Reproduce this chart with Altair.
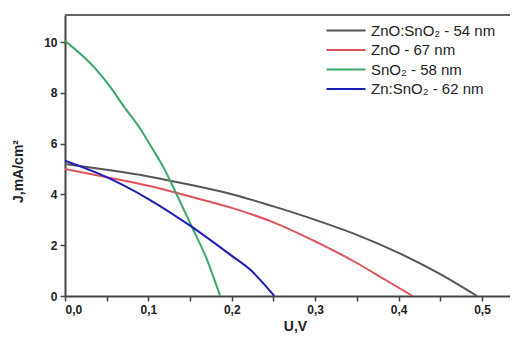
import altair as alt
import pandas as pd

series = ["ZnO:SnO₂ - 54 nm", "ZnO - 67 nm", "SnO₂ - 58 nm", "Zn:SnO₂ - 62 nm"]
colors = ["#555555", "#e0525a", "#3aa86a", "#1c1cb8"]

u_znosno2 = [0.0, 0.05, 0.1, 0.15, 0.2, 0.25, 0.3, 0.35, 0.4, 0.45, 0.494]
j_znosno2 = [5.2, 4.97, 4.71, 4.38, 4.01, 3.53, 3.0, 2.41, 1.7, 0.86, 0.0]

u_zno = [0.0, 0.05, 0.1, 0.15, 0.2, 0.25, 0.3, 0.35, 0.385, 0.417]
j_zno = [5.0, 4.68, 4.34, 3.92, 3.47, 2.9, 2.15, 1.3, 0.62, 0.0]

u_sno2 = [0.0, 0.02, 0.038, 0.054, 0.072, 0.09, 0.104, 0.12, 0.126, 0.136, 0.154, 0.17, 0.186]
j_sno2 = [10.05, 9.49, 8.9, 8.25, 7.4, 6.6, 5.85, 4.95, 4.55, 3.85, 2.6, 1.45, 0.0]

u_znsno2 = [0.0, 0.05, 0.1, 0.15, 0.198, 0.222, 0.251]
j_znsno2 = [5.33, 4.68, 3.82, 2.77, 1.63, 1.04, 0.0]

x_ticks = [0.0, 0.05, 0.1, 0.15, 0.2, 0.25, 0.3, 0.35, 0.4, 0.45, 0.5]
y_ticks = [0, 1, 2, 3, 4, 5, 6, 7, 8, 9, 10]
x_max = 0.5336
y_max = 11.07

rows = []
for name, us, js in zip(series, [u_znosno2, u_zno, u_sno2, u_znsno2],
                        [j_znosno2, j_zno, j_sno2, j_znsno2]):
    for i, (u, j) in enumerate(zip(us, js)):
        rows.append({"series": name, "U": u, "J": j, "order": i})
df = pd.DataFrame(rows)

FONT = "Liberation Sans"

lines = alt.Chart(df).mark_line(strokeWidth=2, clip=True, interpolate="monotone").encode(
    x=alt.X("U:Q",
            scale=alt.Scale(domain=[0, x_max], nice=False, zero=False),
            axis=alt.Axis(values=x_ticks,
                          labelExpr="(round(datum.value*100) % 10 == 0) ? replace(format(datum.value, '.1f'), '.', ',') : ''",
                          title="U,V", titleX=230, titleY=34,
                          titleAnchor="start", titleAlign="center",
                          titleBaseline="alphabetic")),
    y=alt.Y("J:Q",
            scale=alt.Scale(domain=[0, y_max], nice=False),
            axis=alt.Axis(values=y_ticks,
                          labelExpr="datum.value % 2 == 0 ? datum.label : ''",
                          title="J,mA/cm²", titleX=-47, titleY=156,
                          titleAlign="center", titleBaseline="middle", titleAngle=-90)),
    color=alt.Color("series:N",
                    scale=alt.Scale(domain=series, range=colors),
                    legend=alt.Legend(orient="none", legendX=273.5, legendY=8,
                                      title=None, padding=0,
                                      symbolType="M-3.9,0H3.9", symbolSize=100,
                                      symbolStrokeWidth=2, labelOffset=17.5,
                                      rowPadding=3.5, labelFontSize=15,
                                      labelFont=FONT, labelColor="#222222",
                                      labelLimit=300)),
    order="order:Q",
)

top_border = alt.Chart(pd.DataFrame({"y": [y_max]})).mark_rule(
    color="#666666", strokeWidth=2
).encode(y=alt.Y("y:Q"))

chart = alt.layer(lines, top_border).properties(
    width=445, height=281,
    autosize=alt.AutoSizeParams(type="none"),
    padding={"left": 57, "top": 7, "right": 0, "bottom": 37},
).configure_view(stroke=None).configure_axis(
    grid=False,
    domainColor="#444444", domainWidth=2,
    tickColor="#444444", tickWidth=1.5, tickSize=5,
    labelFont=FONT, labelFontWeight="bold", labelFontSize=12,
    labelColor="#222222", labelPadding=3,
    titleFont=FONT, titleFontWeight="bold", titleFontSize=14,
    titleColor="#222222",
)

chart.save("out.html", embed_options={"renderer": "svg", "actions": False})
